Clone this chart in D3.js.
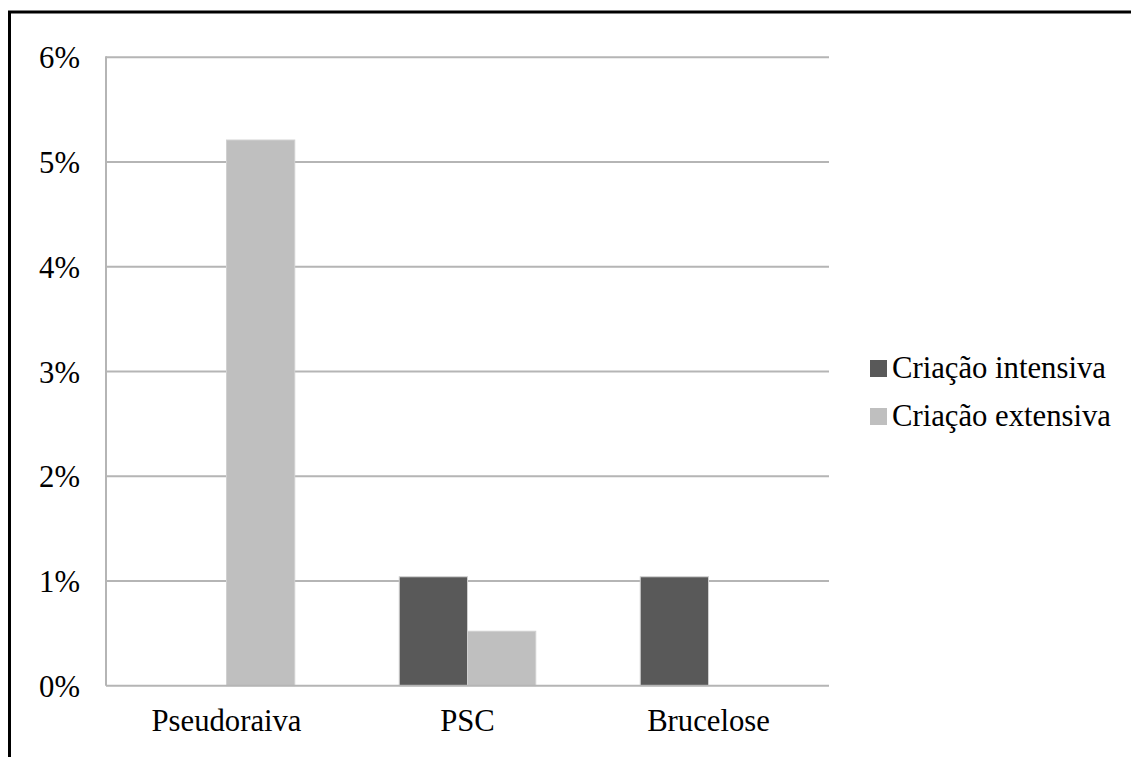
<!DOCTYPE html>
<html>
<head>
<meta charset="utf-8">
<script src="https://cdn.jsdelivr.net/npm/d3@7"></script>
<style>
  html, body { margin: 0; padding: 0; background: #fff; }
  svg { display: block; }
</style>
</head>
<body>
<svg id="chart" width="1131" height="757"></svg>
<script>
// Disease categories and prevalence (%) per farming system
const categories = ["Pseudoraiva", "PSC", "Brucelose"];
const seriesNames = ["Criação intensiva", "Criação extensiva"];
const intensiva = [0, 1.04, 1.04];
const extensiva = [5.21, 0.52, 0];
const yTicks = [0, 1, 2, 3, 4, 5, 6];
const yTickLabels = ["0%", "1%", "2%", "3%", "4%", "5%", "6%"];
const colors = ["#595959", "#bfbfbf"];

const svg = d3.select("#chart");
const font = "'Liberation Serif', 'Times New Roman', serif";
const fontSize = 30.7;

// outer frame
svg.append("path")
  .attr("d", "M9.5,1000 L9.5,12 L1140,12")
  .attr("fill", "none").attr("stroke", "#000").attr("stroke-width", 3);

const plot = { left: 106, right: 829, top: 57.3, bottom: 685.7 };

const x0 = d3.scaleBand().domain(categories).range([plot.left, plot.right]);
const x1 = d3.scaleBand().domain(seriesNames).range([0, 136.5]);
const y = d3.scaleLinear().domain([0, 6]).range([plot.bottom, plot.top]);

// horizontal gridlines
svg.append("g").selectAll("line").data(yTicks.filter(t => t > 0)).join("line")
  .attr("x1", plot.left).attr("x2", plot.right)
  .attr("y1", d => y(d)).attr("y2", d => y(d))
  .attr("stroke", "#b5b5b5").attr("stroke-width", 2);

// bars
const series = [intensiva, extensiva];
const groups = svg.append("g").selectAll("g").data(categories).join("g")
  .attr("transform", d => `translate(${x0(d) + x0.bandwidth() / 2 - 68.25},0)`);
groups.selectAll("rect")
  .data((c, i) => seriesNames.map((s, j) => ({ s, j, v: series[j][i] })).filter(d => d.v > 0))
  .join("rect")
  .attr("x", d => x1(d.s))
  .attr("width", x1.bandwidth())
  .attr("y", d => y(d.v))
  .attr("height", d => y(0) - y(d.v))
  .attr("fill", d => colors[d.j])
  .attr("stroke", "#d0d0d0").attr("stroke-width", 1);

// axis lines
svg.append("line").attr("x1", plot.left).attr("x2", plot.left)
  .attr("y1", plot.top - 1).attr("y2", plot.bottom)
  .attr("stroke", "#b5b5b5").attr("stroke-width", 2);
svg.append("line").attr("x1", plot.left).attr("x2", plot.right)
  .attr("y1", plot.bottom).attr("y2", plot.bottom)
  .attr("stroke", "#b5b5b5").attr("stroke-width", 2);

// y tick labels
svg.append("g").selectAll("text").data(yTicks).join("text")
  .attr("x", 80).attr("y", d => y(d) + 11)
  .attr("text-anchor", "end")
  .attr("font-family", font).attr("font-size", fontSize).attr("fill", "#000")
  .text((d, i) => yTickLabels[i]);

// category labels
svg.append("g").selectAll("text").data(categories).join("text")
  .attr("x", d => x0(d) + x0.bandwidth() / 2)
  .attr("y", 731)
  .attr("text-anchor", "middle")
  .attr("font-family", font).attr("font-size", fontSize).attr("fill", "#000")
  .text(d => d);

// legend
const legend = svg.append("g").selectAll("g").data(seriesNames).join("g")
  .attr("transform", (d, i) => `translate(870,${360 + i * 48})`);
legend.append("rect").attr("width", 17).attr("height", 17)
  .attr("fill", (d, i) => colors[i]);
legend.append("text").attr("x", 22).attr("y", 18)
  .attr("font-family", font).attr("font-size", fontSize).attr("fill", "#000")
  .text(d => d);
</script>
</body>
</html>
